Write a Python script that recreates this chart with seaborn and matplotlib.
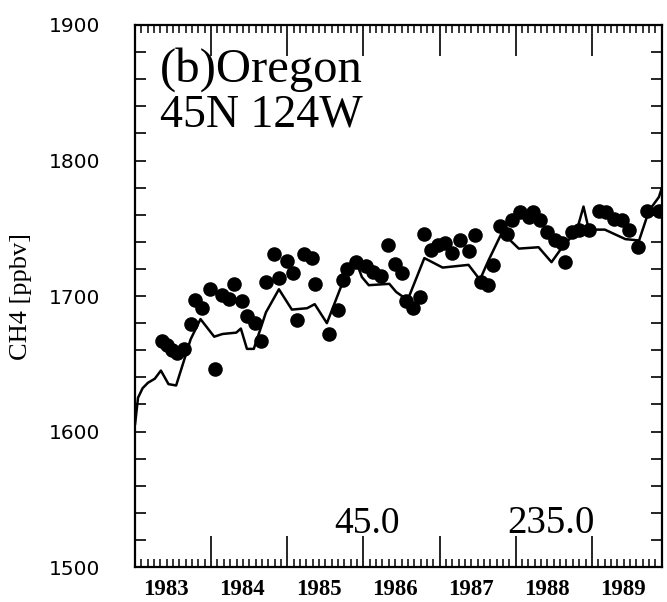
import numpy as np
import pandas as pd
import matplotlib
matplotlib.use("Agg")
import matplotlib.pyplot as plt
import matplotlib.transforms as mtransforms
from matplotlib.ticker import MultipleLocator
import seaborn as sns

# model curve (decimal year, ppbv) read at its vertices
model_year = [1983.00, 1983.04, 1983.10, 1983.17, 1983.26, 1983.34, 1983.44, 1983.54,
              1983.63, 1983.73, 1983.86, 1984.04, 1984.15, 1984.33, 1984.39, 1984.47,
              1984.56, 1984.72, 1984.89, 1985.06, 1985.26, 1985.36, 1985.52, 1985.72,
              1985.90, 1985.98, 1986.07, 1986.34, 1986.43, 1986.58, 1986.80, 1987.04,
              1987.38, 1987.53, 1987.64, 1987.82, 1988.04, 1988.30, 1988.47, 1988.61,
              1988.80, 1988.89, 1988.96, 1989.17, 1989.44, 1989.62, 1989.75, 1989.88,
              1989.92]
model_ch4 = [1605, 1625, 1632, 1636, 1639, 1645, 1635, 1634,
             1650, 1668, 1683, 1670, 1672, 1673, 1676, 1661,
             1661, 1688, 1705, 1690, 1691, 1694, 1680, 1709,
             1726, 1714, 1708, 1709, 1703, 1697, 1728, 1721,
             1723, 1712, 1726, 1747, 1735, 1736, 1725, 1736,
             1748, 1766, 1749, 1749, 1742, 1741, 1763, 1773,
             1780]

# observations
obs_year = [1983.35, 1983.42, 1983.48, 1983.55, 1983.64, 1983.73, 1983.79, 1983.88,
            1983.99, 1984.05, 1984.14, 1984.23, 1984.30, 1984.41, 1984.47, 1984.58,
            1984.65, 1984.72, 1984.82, 1984.89, 1985.00, 1985.07, 1985.13, 1985.22,
            1985.33, 1985.37, 1985.55, 1985.66, 1985.73, 1985.79, 1985.90, 1986.03,
            1986.12, 1986.23, 1986.32, 1986.41, 1986.50, 1986.56, 1986.65, 1986.74,
            1986.80, 1986.89, 1986.98, 1987.07, 1987.16, 1987.27, 1987.38, 1987.46,
            1987.55, 1987.64, 1987.70, 1987.79, 1987.88, 1987.95, 1988.06, 1988.17,
            1988.23, 1988.32, 1988.41, 1988.52, 1988.61, 1988.65, 1988.74, 1988.83,
            1988.96, 1989.09, 1989.18, 1989.29, 1989.40, 1989.49, 1989.60, 1989.73,
            1989.88]
obs_ch4 = [1667, 1664, 1660, 1658, 1661, 1679, 1697, 1691,
           1705, 1646, 1701, 1698, 1709, 1696, 1685, 1680,
           1667, 1710, 1731, 1713, 1726, 1717, 1682, 1731,
           1728, 1709, 1672, 1690, 1712, 1720, 1725, 1722,
           1718, 1715, 1738, 1724, 1717, 1696, 1691, 1699,
           1746, 1734, 1738, 1739, 1732, 1741, 1733, 1745,
           1710, 1708, 1723, 1752, 1746, 1756, 1762, 1758,
           1762, 1756, 1747, 1741, 1739, 1725, 1747, 1749,
           1749, 1763, 1762, 1757, 1756, 1749, 1736, 1763,
           1763]

year_labels = ["1983", "1984", "1985", "1986", "1987", "1988", "1989"]
years = [1983, 1984, 1985, 1986, 1987, 1988, 1989]

model = pd.DataFrame({"year": model_year, "ch4": model_ch4})
obs = pd.DataFrame({"year": obs_year, "ch4": obs_ch4})

sns.set_style("ticks")
plt.rcParams["font.family"] = ["DejaVu Sans"]
plt.rcParams["text.color"] = "black"
plt.rcParams["axes.labelcolor"] = "black"

fig = plt.figure(figsize=(6.67, 6.02), dpi=100)
ax = fig.add_axes([0.2024, 0.058, 0.790, 0.9005])

sns.lineplot(data=model, x="year", y="ch4", color="black", linewidth=1.8, ax=ax)
sns.scatterplot(data=obs, x="year", y="ch4", color="black", s=110, edgecolor="black",
                linewidth=0, ax=ax, zorder=3)

ax.set_xlim(1983.0, 1989.92)
ax.set_ylim(1500, 1900)

for s in ax.spines.values():
    s.set_linewidth(1.6)
    s.set_color("black")
    s.set_visible(True)

# long ticks at year boundaries, short ones every month
months = np.arange(1983, 1990, 1 / 12)
ax.set_xticks(years[1:])
ax.set_xticks(months, minor=True)
ax.yaxis.set_major_locator(MultipleLocator(100))
ax.yaxis.set_minor_locator(MultipleLocator(20))
ax.tick_params(axis="x", which="major", direction="in", length=22, width=1.2,
               top=True, bottom=True, labelbottom=False, color="black")
ax.tick_params(axis="x", which="minor", direction="in", length=6, width=1.1,
               top=True, bottom=True, color="black")
ax.tick_params(axis="y", which="both", direction="in", length=8, width=1.2,
               left=True, right=True, labelsize=14.5, pad=25, color="black",
               labelcolor="black")

# year labels sit in the middle of each year
trans = mtransforms.blended_transform_factory(ax.transData, ax.transAxes)
for yr, lab in zip(years, year_labels):
    ax.text(yr + 0.41, -0.022, lab, transform=trans, ha="center", va="top",
            fontsize=16.5, family="Liberation Serif", weight="bold")

ax.set_xlabel("")
ax.set_ylabel("CH4 [ppbv]", family="Liberation Serif", fontsize=19, labelpad=12)

ax.text(0.048, 0.918, "(b)Oregon", transform=ax.transAxes, family="Liberation Serif",
        fontsize=35, ha="left", va="center")
ax.text(0.048, 0.833, "45N 124W", transform=ax.transAxes, family="Liberation Serif",
        fontsize=33, ha="left", va="center")
ax.text(0.44, 0.063, "45.0", transform=ax.transAxes, family="Liberation Serif",
        fontsize=27, ha="center", va="baseline")
ax.text(0.79, 0.063, "235.0", transform=ax.transAxes, family="Liberation Serif",
        fontsize=28, ha="center", va="baseline")

fig.savefig("out.png", dpi=100)
